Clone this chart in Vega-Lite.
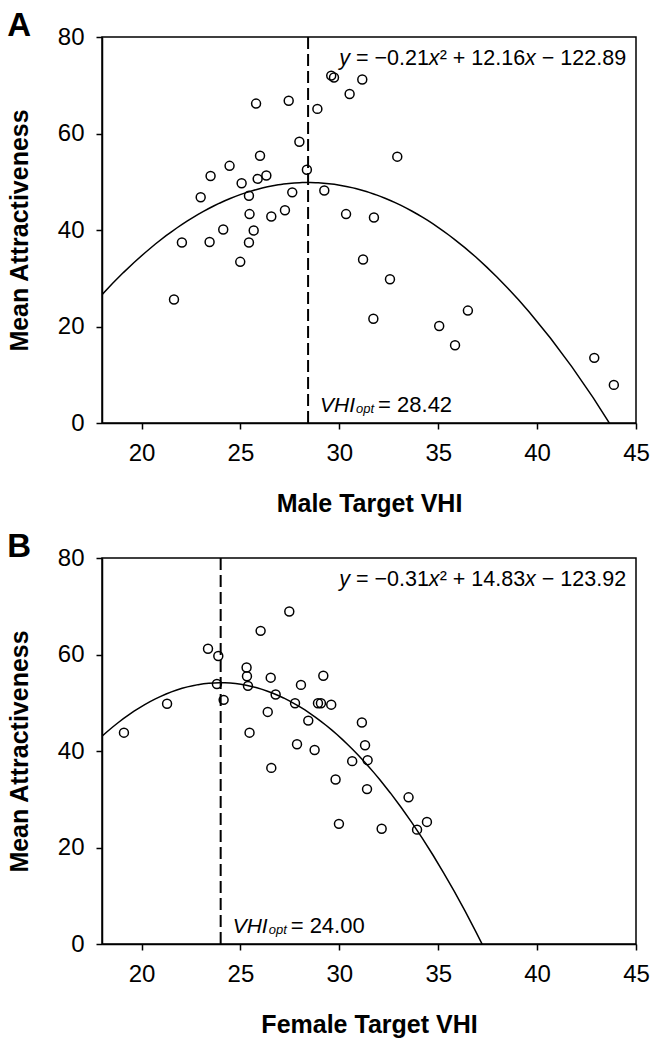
{
  "$schema": "https://vega.github.io/schema/vega-lite/v6.json",
  "padding": {"left": 6, "top": 9, "right": 5, "bottom": 3},
  "spacing": 13,
  "background": "white",
  "config": {
    "font": "Liberation Sans",
    "view": {"stroke": "black", "strokeWidth": 1.5},
    "axis": {"grid": false, "domainColor": "black", "domainWidth": 1.5, "tickColor": "black", "tickWidth": 1.5, "tickSize": 6, "labelFont": "Liberation Sans", "labelFontSize": 24, "labelColor": "black", "titleFont": "Liberation Sans", "titleFontSize": 25, "titleFontWeight": "bold", "titleColor": "black", "labelFlush": false, "labelOverlap": false},
    "axisX": {"labelPadding": 12, "titlePadding": 26},
    "axisY": {"labelPadding": 12, "titlePadding": 25},
    "title": {"font": "Liberation Sans", "fontSize": 33, "fontWeight": "bold", "color": "black", "anchor": "start", "frame": "bounds", "baseline": "alphabetic", "offset": -18}
  },
  "datasets": {
    "pointsA": [
      {"x": 21.64, "y": 25.6}, {"x": 22.04, "y": 37.4}, {"x": 23.44, "y": 37.5}, {"x": 22.99, "y": 46.8},
      {"x": 23.49, "y": 51.2}, {"x": 24.13, "y": 40.1}, {"x": 24.45, "y": 53.3}, {"x": 24.99, "y": 33.4},
      {"x": 25.06, "y": 49.7}, {"x": 25.43, "y": 47.1}, {"x": 25.46, "y": 43.3}, {"x": 25.43, "y": 37.4},
      {"x": 25.67, "y": 39.9}, {"x": 25.79, "y": 66.2}, {"x": 25.87, "y": 50.6}, {"x": 25.99, "y": 55.4},
      {"x": 26.31, "y": 51.3}, {"x": 26.56, "y": 42.8}, {"x": 27.25, "y": 44.1}, {"x": 27.44, "y": 66.8},
      {"x": 27.62, "y": 47.8}, {"x": 27.98, "y": 58.3}, {"x": 28.36, "y": 52.5}, {"x": 28.89, "y": 65.1},
      {"x": 29.24, "y": 48.2}, {"x": 29.59, "y": 72.0}, {"x": 29.73, "y": 71.6}, {"x": 30.34, "y": 43.3},
      {"x": 30.52, "y": 68.2}, {"x": 31.16, "y": 71.2}, {"x": 31.20, "y": 33.9}, {"x": 31.75, "y": 42.6},
      {"x": 31.72, "y": 21.6}, {"x": 32.93, "y": 55.2}, {"x": 32.56, "y": 29.8}, {"x": 35.05, "y": 20.1},
      {"x": 35.85, "y": 16.1}, {"x": 36.50, "y": 23.3}, {"x": 42.89, "y": 13.5}, {"x": 43.88, "y": 7.9}
    ],
    "pointsB": [
      {"x": 19.11, "y": 43.8}, {"x": 21.29, "y": 49.8}, {"x": 23.36, "y": 61.2}, {"x": 23.88, "y": 59.7},
      {"x": 23.81, "y": 53.9}, {"x": 24.15, "y": 50.6}, {"x": 25.31, "y": 57.3}, {"x": 25.33, "y": 55.5},
      {"x": 25.38, "y": 53.5}, {"x": 25.46, "y": 43.8}, {"x": 26.02, "y": 64.9}, {"x": 26.53, "y": 55.2},
      {"x": 26.38, "y": 48.1}, {"x": 26.56, "y": 36.5}, {"x": 26.78, "y": 51.7}, {"x": 27.47, "y": 68.9},
      {"x": 27.76, "y": 49.9}, {"x": 27.86, "y": 41.4}, {"x": 28.06, "y": 53.7}, {"x": 28.43, "y": 46.3},
      {"x": 28.75, "y": 40.2}, {"x": 28.92, "y": 49.9}, {"x": 29.07, "y": 49.9}, {"x": 29.19, "y": 55.6},
      {"x": 29.59, "y": 49.6}, {"x": 29.81, "y": 34.1}, {"x": 29.98, "y": 24.9}, {"x": 30.65, "y": 37.9},
      {"x": 31.14, "y": 45.9}, {"x": 31.30, "y": 41.2}, {"x": 31.43, "y": 38.1}, {"x": 31.40, "y": 32.1},
      {"x": 32.14, "y": 23.9}, {"x": 33.50, "y": 30.4}, {"x": 33.93, "y": 23.7}, {"x": 34.43, "y": 25.3}
    ],
    "optA": [{"opt": 28.42, "v": "VHI", "s": "opt", "val": "= 28.42", "e1": "y", "e2": " = \u22120.21", "e3": "x", "e4": "\u00b2 + 12.16", "e5": "x", "e6": " \u2212 122.89"}],
    "optB": [{"opt": 24.0, "v": "VHI", "s": "opt", "val": "= 24.00", "e1": "y", "e2": " = \u22120.31", "e3": "x", "e4": "\u00b2 + 14.83", "e5": "x", "e6": " \u2212 123.92"}]
  },
  "vconcat": [
    {
      "title": {"text": "A"},
      "width": 534,
      "height": 386,
      "layer": [
        {
          "data": {"name": "pointsA"},
          "mark": {"type": "point", "shape": "circle", "filled": false, "stroke": "black", "strokeWidth": 1.5, "size": 80, "opacity": 1},
          "encoding": {
            "x": {"field": "x", "type": "quantitative", "scale": {"domain": [18, 45], "nice": false, "zero": false}, "axis": {"values": [20, 25, 30, 35, 40, 45], "title": "Male Target VHI"}},
            "y": {"field": "y", "type": "quantitative", "scale": {"domain": [0, 80], "nice": false}, "axis": {"values": [0, 20, 40, 60, 80], "title": "Mean Attractiveness"}}
          }
        },
        {
          "data": {"name": "pointsA"},
          "transform": [{"regression": "y", "on": "x", "method": "poly", "order": 2, "extent": [18, 45]}],
          "mark": {"type": "line", "color": "black", "strokeWidth": 1.5, "clip": true},
          "encoding": {"x": {"field": "x", "type": "quantitative"}, "y": {"field": "y", "type": "quantitative"}}
        },
        {
          "data": {"name": "optA"},
          "mark": {"type": "rule", "color": "black", "strokeWidth": 2, "strokeDash": [12, 5]},
          "encoding": {"x": {"field": "opt", "type": "quantitative"}}
        },
        {
          "data": {"name": "optA"},
          "mark": {"type": "text", "align": "left", "baseline": "alphabetic", "fontSize": 21, "fontStyle": "italic", "dx": 12, "color": "black"},
          "encoding": {"x": {"field": "opt", "type": "quantitative"}, "y": {"datum": 2.3}, "text": {"field": "v"}}
        },
        {
          "data": {"name": "optA"},
          "mark": {"type": "text", "align": "left", "baseline": "alphabetic", "fontSize": 13, "fontStyle": "italic", "dx": 48, "dy": 1, "color": "black"},
          "encoding": {"x": {"field": "opt", "type": "quantitative"}, "y": {"datum": 2.3}, "text": {"field": "s"}}
        },
        {
          "data": {"name": "optA"},
          "mark": {"type": "text", "align": "left", "baseline": "alphabetic", "fontSize": 22, "dx": 70, "color": "black"},
          "encoding": {"x": {"field": "opt", "type": "quantitative"}, "y": {"datum": 2.3}, "text": {"field": "val"}}
        },
        {
          "data": {"name": "optA"},
          "mark": {"type": "text", "align": "right", "baseline": "alphabetic", "fontSize": 21.5, "dx": 0, "color": "black"},
          "encoding": {"x": {"datum": 44.5}, "y": {"datum": 74.3}, "text": {"field": "e6"}}
        },
        {
          "data": {"name": "optA"},
          "mark": {"type": "text", "align": "right", "baseline": "alphabetic", "fontSize": 21.5, "fontStyle": "italic", "dx": -90.3, "color": "black"},
          "encoding": {"x": {"datum": 44.5}, "y": {"datum": 74.3}, "text": {"field": "e5"}}
        },
        {
          "data": {"name": "optA"},
          "mark": {"type": "text", "align": "right", "baseline": "alphabetic", "fontSize": 21.5, "dx": -101.0, "color": "black"},
          "encoding": {"x": {"datum": 44.5}, "y": {"datum": 74.3}, "text": {"field": "e4"}}
        },
        {
          "data": {"name": "optA"},
          "mark": {"type": "text", "align": "right", "baseline": "alphabetic", "fontSize": 21.5, "fontStyle": "italic", "dx": -186.5, "color": "black"},
          "encoding": {"x": {"datum": 44.5}, "y": {"datum": 74.3}, "text": {"field": "e3"}}
        },
        {
          "data": {"name": "optA"},
          "mark": {"type": "text", "align": "right", "baseline": "alphabetic", "fontSize": 21.5, "dx": -197.2, "color": "black"},
          "encoding": {"x": {"datum": 44.5}, "y": {"datum": 74.3}, "text": {"field": "e2"}}
        },
        {
          "data": {"name": "optA"},
          "mark": {"type": "text", "align": "right", "baseline": "alphabetic", "fontSize": 21.5, "fontStyle": "italic", "dx": -276.1, "color": "black"},
          "encoding": {"x": {"datum": 44.5}, "y": {"datum": 74.3}, "text": {"field": "e1"}}
        }
      ]
    },
    {
      "title": {"text": "B"},
      "width": 534,
      "height": 386,
      "layer": [
        {
          "data": {"name": "pointsB"},
          "mark": {"type": "point", "shape": "circle", "filled": false, "stroke": "black", "strokeWidth": 1.5, "size": 80, "opacity": 1},
          "encoding": {
            "x": {"field": "x", "type": "quantitative", "scale": {"domain": [18, 45], "nice": false, "zero": false}, "axis": {"values": [20, 25, 30, 35, 40, 45], "title": "Female Target VHI"}},
            "y": {"field": "y", "type": "quantitative", "scale": {"domain": [0, 80], "nice": false}, "axis": {"values": [0, 20, 40, 60, 80], "title": "Mean Attractiveness"}}
          }
        },
        {
          "data": {"name": "pointsB"},
          "transform": [{"regression": "y", "on": "x", "method": "poly", "order": 2, "extent": [18, 45]}],
          "mark": {"type": "line", "color": "black", "strokeWidth": 1.5, "clip": true},
          "encoding": {"x": {"field": "x", "type": "quantitative"}, "y": {"field": "y", "type": "quantitative"}}
        },
        {
          "data": {"name": "optB"},
          "mark": {"type": "rule", "color": "black", "strokeWidth": 2, "strokeDash": [12, 5]},
          "encoding": {"x": {"field": "opt", "type": "quantitative"}}
        },
        {
          "data": {"name": "optB"},
          "mark": {"type": "text", "align": "left", "baseline": "alphabetic", "fontSize": 21, "fontStyle": "italic", "dx": 12, "color": "black"},
          "encoding": {"x": {"field": "opt", "type": "quantitative"}, "y": {"datum": 2.3}, "text": {"field": "v"}}
        },
        {
          "data": {"name": "optB"},
          "mark": {"type": "text", "align": "left", "baseline": "alphabetic", "fontSize": 13, "fontStyle": "italic", "dx": 48, "dy": 1, "color": "black"},
          "encoding": {"x": {"field": "opt", "type": "quantitative"}, "y": {"datum": 2.3}, "text": {"field": "s"}}
        },
        {
          "data": {"name": "optB"},
          "mark": {"type": "text", "align": "left", "baseline": "alphabetic", "fontSize": 22, "dx": 70, "color": "black"},
          "encoding": {"x": {"field": "opt", "type": "quantitative"}, "y": {"datum": 2.3}, "text": {"field": "val"}}
        },
        {
          "data": {"name": "optB"},
          "mark": {"type": "text", "align": "right", "baseline": "alphabetic", "fontSize": 21.5, "dx": 0, "color": "black"},
          "encoding": {"x": {"datum": 44.5}, "y": {"datum": 74.3}, "text": {"field": "e6"}}
        },
        {
          "data": {"name": "optB"},
          "mark": {"type": "text", "align": "right", "baseline": "alphabetic", "fontSize": 21.5, "fontStyle": "italic", "dx": -90.3, "color": "black"},
          "encoding": {"x": {"datum": 44.5}, "y": {"datum": 74.3}, "text": {"field": "e5"}}
        },
        {
          "data": {"name": "optB"},
          "mark": {"type": "text", "align": "right", "baseline": "alphabetic", "fontSize": 21.5, "dx": -101.0, "color": "black"},
          "encoding": {"x": {"datum": 44.5}, "y": {"datum": 74.3}, "text": {"field": "e4"}}
        },
        {
          "data": {"name": "optB"},
          "mark": {"type": "text", "align": "right", "baseline": "alphabetic", "fontSize": 21.5, "fontStyle": "italic", "dx": -186.5, "color": "black"},
          "encoding": {"x": {"datum": 44.5}, "y": {"datum": 74.3}, "text": {"field": "e3"}}
        },
        {
          "data": {"name": "optB"},
          "mark": {"type": "text", "align": "right", "baseline": "alphabetic", "fontSize": 21.5, "dx": -197.2, "color": "black"},
          "encoding": {"x": {"datum": 44.5}, "y": {"datum": 74.3}, "text": {"field": "e2"}}
        },
        {
          "data": {"name": "optB"},
          "mark": {"type": "text", "align": "right", "baseline": "alphabetic", "fontSize": 21.5, "fontStyle": "italic", "dx": -276.1, "color": "black"},
          "encoding": {"x": {"datum": 44.5}, "y": {"datum": 74.3}, "text": {"field": "e1"}}
        }
      ]
    }
  ]
}
